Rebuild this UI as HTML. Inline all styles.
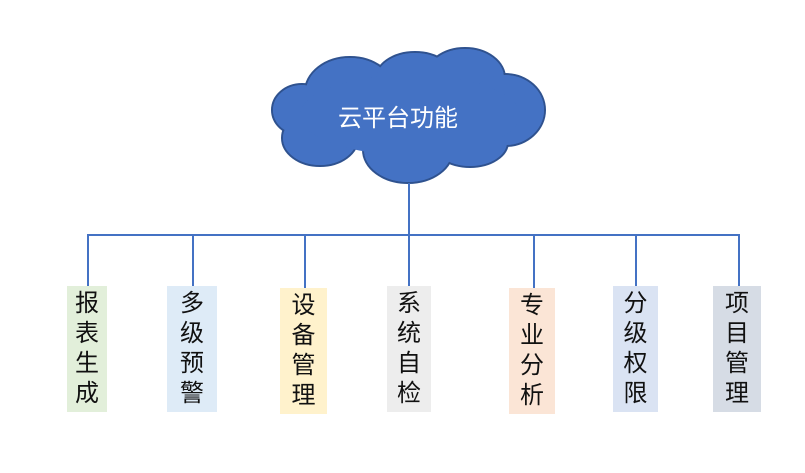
<!DOCTYPE html>
<html><head><meta charset="utf-8"><style>
body{margin:0;width:805px;height:473px;background:#fff;overflow:hidden;position:relative;font-family:"Liberation Sans","Noto Sans CJK SC",sans-serif}
.b{position:absolute;display:flex;flex-direction:column;align-items:center;justify-content:center;font-size:24px;line-height:30px;color:#111}
</style></head><body>
<svg width="805" height="473" style="position:absolute;left:0;top:0">
<g fill="#4472c4" stroke="#2f528f" stroke-width="2">
<ellipse cx="302" cy="110" rx="30" ry="26"/>
<ellipse cx="320" cy="138" rx="38" ry="28"/>
<ellipse cx="350" cy="92" rx="45" ry="35"/>
<ellipse cx="415" cy="80" rx="40" ry="28"/>
<ellipse cx="465" cy="78" rx="40" ry="30"/>
<ellipse cx="505" cy="110" rx="40" ry="36"/>
<ellipse cx="470" cy="142" rx="38" ry="25"/>
<ellipse cx="408" cy="150" rx="45" ry="33"/>
</g>
<g fill="#4472c4">
<ellipse cx="302" cy="110" rx="29" ry="25"/>
<ellipse cx="320" cy="138" rx="37" ry="27"/>
<ellipse cx="350" cy="92" rx="44" ry="34"/>
<ellipse cx="415" cy="80" rx="39" ry="27"/>
<ellipse cx="465" cy="78" rx="39" ry="29"/>
<ellipse cx="505" cy="110" rx="39" ry="35"/>
<ellipse cx="470" cy="142" rx="37" ry="24"/>
<ellipse cx="408" cy="150" rx="44" ry="32"/>
<ellipse cx="410" cy="115" rx="110" ry="40"/>
</g>
<text x="398" y="126" fill="#fff" font-size="24" text-anchor="middle" font-family="Liberation Sans,Noto Sans CJK SC,sans-serif">云平台功能</text>
<g stroke="#4472c4" stroke-width="2" fill="none">
<line x1="409" y1="183" x2="409" y2="235"/>
<line x1="87" y1="235" x2="740" y2="235"/>
<line x1="88" y1="235" x2="88" y2="286"/>
<line x1="193" y1="235" x2="193" y2="286"/>
<line x1="305" y1="235" x2="305" y2="288"/>
<line x1="409" y1="235" x2="409" y2="286"/>
<line x1="534" y1="235" x2="534" y2="288"/>
<line x1="636" y1="235" x2="636" y2="286"/>
<line x1="739" y1="235" x2="739" y2="286"/>
</g>
</svg>
<div class="b" style="left:67px;top:286px;width:40px;height:126px;background:#e2efda">报<br>表<br>生<br>成</div>
<div class="b" style="left:167px;top:286px;width:50px;height:126px;background:#deebf7">多<br>级<br>预<br>警</div>
<div class="b" style="left:280px;top:288px;width:47px;height:126px;background:#fff2cc">设<br>备<br>管<br>理</div>
<div class="b" style="left:387px;top:286px;width:44px;height:126px;background:#ededed">系<br>统<br>自<br>检</div>
<div class="b" style="left:509px;top:288px;width:46px;height:126px;background:#fbe5d6">专<br>业<br>分<br>析</div>
<div class="b" style="left:613px;top:286px;width:45px;height:126px;background:#dae3f3">分<br>级<br>权<br>限</div>
<div class="b" style="left:713px;top:286px;width:48px;height:126px;background:#d6dce5">项<br>目<br>管<br>理</div>
</body></html>
